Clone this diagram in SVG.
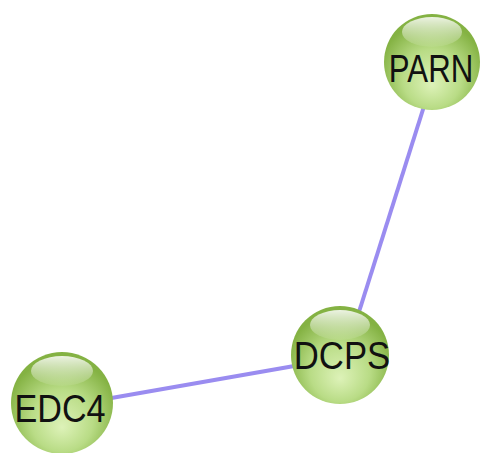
<svg xmlns="http://www.w3.org/2000/svg" width="483" height="453" viewBox="0 0 483 453">
<defs>
<radialGradient id="ball" cx="0.5" cy="0.62" r="0.55" fx="0.5" fy="0.74">
<stop offset="0" stop-color="#ddf2b8"/>
<stop offset="0.55" stop-color="#b9dc86"/>
<stop offset="1" stop-color="#84b243"/>
</radialGradient>
<linearGradient id="hl" x1="0" y1="0" x2="0" y2="1">
<stop offset="0" stop-color="#ffffff" stop-opacity="0.85"/>
<stop offset="1" stop-color="#ffffff" stop-opacity="0.05"/>
</linearGradient>
<style>
.edge{stroke:#9a8cf0;stroke-width:4;fill:none}
.lbl{font-family:"Liberation Sans",Arial,sans-serif;font-size:39px;fill:#111;text-anchor:middle}
</style>
</defs>
<rect width="483" height="453" fill="#ffffff"/>
<g id="connectors">
<line class="edge" x1="426" y1="100" x2="358" y2="315"/>
<line class="edge" x1="100" y1="400" x2="300" y2="365"/>
</g>
<g id="PARN">
<circle cx="432" cy="62" r="48" fill="url(#ball)"/>
<ellipse cx="432" cy="32" rx="30" ry="15" fill="url(#hl)"/>
<text class="lbl" transform="translate(431 82) scale(0.8 1)">PARN</text>
</g>
<g id="DCPS">
<circle cx="340" cy="355" r="49" fill="url(#ball)"/>
<ellipse cx="340" cy="325" rx="30" ry="15" fill="url(#hl)"/>
<text class="lbl" transform="translate(342 369) scale(0.89 1)">DCPS</text>
</g>
<g id="EDC4">
<circle cx="62" cy="403" r="51" fill="url(#ball)"/>
<ellipse cx="62" cy="371" rx="31" ry="15" fill="url(#hl)"/>
<text class="lbl" transform="translate(60 422) scale(0.875 1)">EDC4</text>
</g>
</svg>
